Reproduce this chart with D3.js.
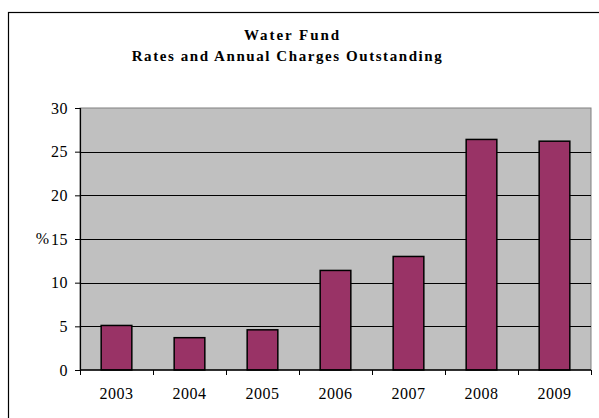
<!DOCTYPE html>
<html>
<head>
<meta charset="utf-8">
<script src="https://cdn.jsdelivr.net/npm/d3@7"></script>
<style>
  html, body { margin: 0; padding: 0; background: #fff; }
  svg { display: block; }
  text { font-family: "Liberation Serif", "Times New Roman", serif; fill: #000; }
</style>
</head>
<body>
<svg id="chart" width="599" height="418"></svg>
<script>
// Outstanding rates and annual charges, % by year
const years = ["2003", "2004", "2005", "2006", "2007", "2008", "2009"];
const outstanding = [5.1, 3.7, 4.6, 11.4, 13.0, 26.4, 26.2];
const yTicks = [0, 5, 10, 15, 20, 25, 30];
const titleLines = ["Water Fund", "Rates and Annual Charges Outstanding"];
const yAxisTitle = "%";

const svg = d3.select("#chart");
const W = 599, H = 418;
const plot = { left: 80, right: 591, top: 108, bottom: 370 };

svg.append("rect").attr("width", W).attr("height", H).attr("fill", "#fff");

// Outer chart frame (runs off the right and bottom of the canvas)
svg.append("rect")
  .attr("x", 8.5).attr("y", 12.5)
  .attr("width", 700).attr("height", 500)
  .attr("fill", "none").attr("stroke", "#000").attr("stroke-width", 1.2);

const x = d3.scaleBand().domain(years).range([plot.left, plot.right]).paddingInner(0.58).paddingOuter(0.29);
const xCat = d3.scaleBand().domain(years).range([plot.left, plot.right]);
const y = d3.scaleLinear().domain([0, 30]).range([plot.bottom, plot.top]);

// Plot area
svg.append("rect")
  .attr("x", plot.left).attr("y", plot.top)
  .attr("width", plot.right - plot.left).attr("height", plot.bottom - plot.top)
  .attr("fill", "#C0C0C0").attr("stroke", "#808080").attr("stroke-width", 1);

// Gridlines
svg.append("g").selectAll("line")
  .data(yTicks.filter(d => d > 0 && d < 30))
  .join("line")
  .attr("x1", plot.left).attr("x2", plot.right)
  .attr("y1", d => Math.round(y(d)) + 0.5).attr("y2", d => Math.round(y(d)) + 0.5)
  .attr("stroke", "#000").attr("stroke-width", 1);

// Bars
svg.append("g").selectAll("rect")
  .data(outstanding)
  .join("rect")
  .attr("x", (d, i) => x(years[i]))
  .attr("y", d => y(d))
  .attr("width", x.bandwidth())
  .attr("height", d => y(0) - y(d))
  .attr("fill", "#993366")
  .attr("stroke", "#000").attr("stroke-width", 1.5);

// Y axis
const yAxis = d3.axisLeft(y).tickValues(yTicks).tickSize(5).tickPadding(7).tickFormat(d3.format("d"));
const gy = svg.append("g").attr("transform", `translate(${plot.left},0)`).call(yAxis);
gy.select(".domain").attr("stroke", "#000").attr("stroke-width", 1.2);
gy.selectAll(".tick line").attr("stroke", "#000");
gy.selectAll("text")
  .attr("font-family", "Liberation Serif, serif")
  .attr("font-size", 16).attr("letter-spacing", 0.5).attr("fill", "#000");

// Y axis title, sitting just left of the 15 label
svg.append("text")
  .attr("x", 49).attr("y", y(15)).attr("dy", "0.32em")
  .attr("text-anchor", "end").attr("font-size", 16)
  .text(yAxisTitle);

// X axis: ticks at category boundaries
const xAxisLine = svg.append("g");
xAxisLine.append("line")
  .attr("x1", plot.left).attr("x2", plot.right)
  .attr("y1", plot.bottom).attr("y2", plot.bottom)
  .attr("stroke", "#000").attr("stroke-width", 1.5);
const bounds = years.map(d => xCat(d)).concat([plot.right]);
xAxisLine.selectAll("line.tk")
  .data(bounds).join("line").attr("class", "tk")
  .attr("x1", d => Math.round(d) + 0.5).attr("x2", d => Math.round(d) + 0.5)
  .attr("y1", plot.bottom).attr("y2", plot.bottom + 5)
  .attr("stroke", "#000").attr("stroke-width", 1);
xAxisLine.selectAll("text")
  .data(years).join("text")
  .attr("x", d => xCat(d) + xCat.bandwidth() / 2)
  .attr("y", 399)
  .attr("text-anchor", "middle")
  .attr("font-size", 16).attr("letter-spacing", 0.5)
  .text(d => d);

// Title
const titleY = [40, 61];
const titleW = [95, 310];
const titleCx = [291.5, 286.7];
titleLines.forEach((t, i) => {
  svg.append("text")
    .attr("x", titleCx[i] - titleW[i] / 2).attr("y", titleY[i])
    .attr("font-size", 15).attr("font-weight", "bold")
    .attr("textLength", titleW[i]).attr("lengthAdjust", "spacing")
    .text(t);
});
</script>
</body>
</html>
